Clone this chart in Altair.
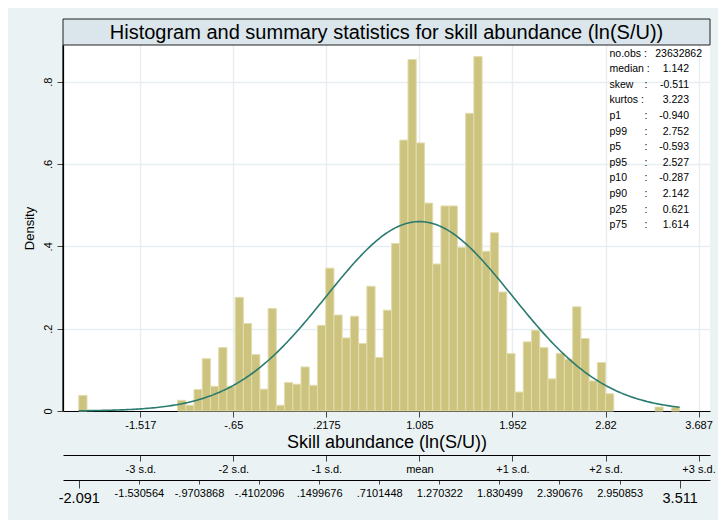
import altair as alt
import pandas as pd

# ---------------- data ----------------
BIN_START = -2.091
BIN_END = 3.511
N_BINS = 73
DENSITY = [
    0.038, 0, 0, 0, 0, 0, 0, 0, 0, 0, 0, 0,
    0.026, 0.014, 0.052, 0.127, 0.060, 0.154, 0.060, 0.276, 0.2125, 0.137,
    0.053, 0.249, 0.014, 0.069, 0.065, 0.107, 0.0625, 0.208, 0.347, 0.233,
    0.1775, 0.230, 0.164, 0.303, 0.130, 0.245, 0.407, 0.658, 0.854, 0.651,
    0.505, 0.357, 0.498, 0.498, 0.397, 0.723, 0.861, 0.388, 0.433, 0.289,
    0.1395, 0.046, 0.168, 0.196, 0.154, 0.078, 0.140, 0.126, 0.253, 0.176,
    0.073, 0.118, 0.042, 0, 0, 0, 0, 0, 0.0097, 0, 0.0097,
]
MEAN = 1.085
SD = 0.8672

SD_TICKS = [-1.517, -0.65, 0.2175, 1.085, 1.952, 2.82, 3.687]
SD_TICK_LABELS = ["-1.517", "-.65", ".2175", "1.085", "1.952", "2.82", "3.687"]
SD_NAMES = ["-3 s.d.", "-2 s.d.", "-1 s.d.", "mean", "+1 s.d.", "+2 s.d.", "+3 s.d."]
RANGE_TICKS = [-2.091, -1.530564, -0.9703868, -0.4102096, 0.1499676, 0.7101448,
               1.270322, 1.830499, 2.390676, 2.950853, 3.511]
RANGE_LABELS = ["-2.091", "-1.530564", "-.9703868", "-.4102096", ".1499676", ".7101448",
                "1.270322", "1.830499", "2.390676", "2.950853", "3.511"]
Y_TICKS = [0, 0.2, 0.4, 0.6, 0.8]
Y_LABELS = ["0", ".2", ".4", ".6", ".8"]

STAT_NAMES = ["no.obs :", "median :", "skew", "kurtos :", "p1", "p99", "p5", "p95",
              "p10", "p90", "p25", "p75"]
STAT_VALUES = ["23632862", "1.142", "-0.511", "3.223", "-0.940", "2.752", "-0.593",
               "2.527", "-0.287", "2.142", "0.621", "1.614"]

TITLE = "Histogram and summary statistics for skill abundance (ln(S/U))"
X_TITLE = "Skill abundance (ln(S/U))"

# ---------------- layout / style ----------------
FONT = "Liberation Sans"
BG = "#EAF2F3"
GRID = "#E6EEF1"
BAR_FILL = "#CCC47E"
BAR_EDGE = "#E2DCAE"
CURVE = "#2B7B6F"
PLOT_W, PLOT_H = 647, 366
X_DOM = [-2.238, 3.794]
Y_DOM = [0, 0.889]

w = (BIN_END - BIN_START) / N_BINS
hist_df = pd.DataFrame({
    "lo": [BIN_START + i * w for i in range(N_BINS)],
    "hi": [BIN_START + (i + 1) * w for i in range(N_BINS)],
    "density": DENSITY,
})
stat_df = pd.DataFrame({"row": list(range(len(STAT_NAMES))),
                        "name": STAT_NAMES, "val": STAT_VALUES})


def lookup(values, labels):
    expr = "''"
    for v, l in reversed(list(zip(values, labels))):
        expr = f"abs(datum.value - ({v})) < 1e-6 ? '{l}' : ({expr})"
    return expr


xs = alt.Scale(domain=X_DOM, nice=False, zero=False, padding=0)
ys = alt.Scale(domain=Y_DOM, nice=False, zero=False, padding=0)

common_axis = dict(labelFont=FONT, labelColor="black", domainColor="black",
                   domainWidth=1.2, tickColor="#444", labelFlush=False,
                   labelOverlap=False, titleFont=FONT, titleColor="black",
                   titleFontWeight="normal")

bars = alt.Chart(hist_df).transform_filter("datum.density > 0").mark_bar(
    fill=BAR_FILL, stroke=BAR_EDGE, strokeWidth=1, orient="vertical"
).encode(
    x=alt.X("lo:Q", scale=xs, axis=alt.Axis(
        values=SD_TICKS, labelExpr=lookup(SD_TICKS, SD_TICK_LABELS),
        title=X_TITLE, titleFontSize=18, titlePadding=3, labelFontSize=11,
        tickSize=6, labelPadding=2, grid=True, gridColor=GRID, gridWidth=1.5,
        **common_axis)),
    x2="hi:Q",
    y=alt.Y("density:Q", scale=ys, axis=alt.Axis(
        values=Y_TICKS, labelExpr=lookup(Y_TICKS, Y_LABELS), labelAngle=-90,
        labelFontSize=11, tickSize=6, labelPadding=4, title="Density",
        titleFontSize=13, titlePadding=6, grid=True, gridColor=GRID, gridWidth=1.5,
        domain=True, **common_axis)),
    y2=alt.datum(0),
)

curve = alt.Chart(alt.sequence(0, 301, as_="k")).transform_calculate(
    xv=f"{BIN_START} + datum.k * ({BIN_END} - ({BIN_START})) / 300",
).transform_calculate(
    d=f"exp(-0.5 * pow((datum.xv - {MEAN}) / {SD}, 2)) / ({SD} * sqrt(2 * PI))"
).mark_line(color=CURVE, strokeWidth=1.6).encode(
    x=alt.X("xv:Q", scale=xs, axis=None),
    y=alt.Y("d:Q", scale=ys, axis=None),
)

# left axis line (Stata draws it solid black)
y_line = alt.Chart(pd.DataFrame({"a": [0]})).mark_rule(color="black", strokeWidth=1.2).encode(
    x=alt.value(0), y=alt.value(0), y2=alt.value(PLOT_H))

sd_axis = alt.Chart(pd.DataFrame({"v": SD_TICKS})).mark_point(opacity=0).encode(
    x=alt.X("v:Q", scale=xs, axis=alt.Axis(
        orient="bottom", offset=44, values=SD_TICKS, labelExpr=lookup(SD_TICKS, SD_NAMES),
        title=None, grid=False, tickSize=6, labelPadding=2, labelFontSize=11,
        **common_axis)),
    y=alt.value(PLOT_H),
)

big = "datum.value < -2 || datum.value > 3.5"
range_axis = alt.Chart(pd.DataFrame({"v": RANGE_TICKS})).mark_point(opacity=0).encode(
    x=alt.X("v:Q", scale=xs, axis=alt.Axis(
        orient="bottom", offset=69, values=RANGE_TICKS,
        labelExpr=lookup(RANGE_TICKS, RANGE_LABELS), title=None, grid=False,
        tickSize={"condition": {"test": big, "value": 8}, "value": 4},
        labelFontSize={"condition": {"test": big, "value": 14.5}, "value": 11},
        labelPadding=3, **common_axis)),
    y=alt.value(PLOT_H),
)

title_box = alt.Chart(pd.DataFrame({"t": [TITLE]})).mark_rect(
    fill="#DAE6EB", stroke="#222", strokeWidth=1
).encode(x=alt.value(0), x2=alt.value(PLOT_W), y=alt.value(-26), y2=alt.value(0))

title_text = alt.Chart(pd.DataFrame({"t": [TITLE]})).mark_text(
    font=FONT, fontSize=20, color="black", align="center", baseline="middle"
).encode(text="t:N", x=alt.value(PLOT_W / 2), y=alt.value(-12.5))

stat_base = alt.Chart(stat_df).transform_calculate(py="8.5 + datum.row * 15.6")
stat_names = stat_base.mark_text(font=FONT, fontSize=10.5, align="left",
                                 baseline="middle", color="black").encode(
    text="name:N", x=alt.value(546.5), y=alt.Y("py:Q", scale=None))
stat_colons = stat_base.transform_filter("indexof(datum.name, ':') < 0").mark_text(
    font=FONT, fontSize=10.5, align="center", baseline="middle", color="black", text=":"
).encode(x=alt.value(583), y=alt.Y("py:Q", scale=None))
stat_vals = stat_base.transform_filter("datum.row > 0").mark_text(
    font=FONT, fontSize=10.5, align="right", baseline="middle", color="black").encode(
    text="val:N", x=alt.value(626), y=alt.Y("py:Q", scale=None))
stat_first = stat_base.transform_filter("datum.row == 0").mark_text(
    font=FONT, fontSize=10.5, align="right", baseline="middle", color="black").encode(
    text="val:N", x=alt.value(639), y=alt.Y("py:Q", scale=None))

chart = alt.layer(
    bars, curve, y_line, sd_axis, range_axis, title_box, title_text,
    stat_names, stat_colons, stat_vals, stat_first,
).resolve_axis(x="independent", y="independent").properties(
    width=PLOT_W, height=PLOT_H,
    autosize=alt.AutoSizeParams(type="none"),
    padding={"left": 55, "top": 37, "right": 8, "bottom": 109},
    background=BG,
).configure_view(stroke=None, fill="white")

chart.save("out.html", embed_options={"renderer": "svg", "actions": False})
